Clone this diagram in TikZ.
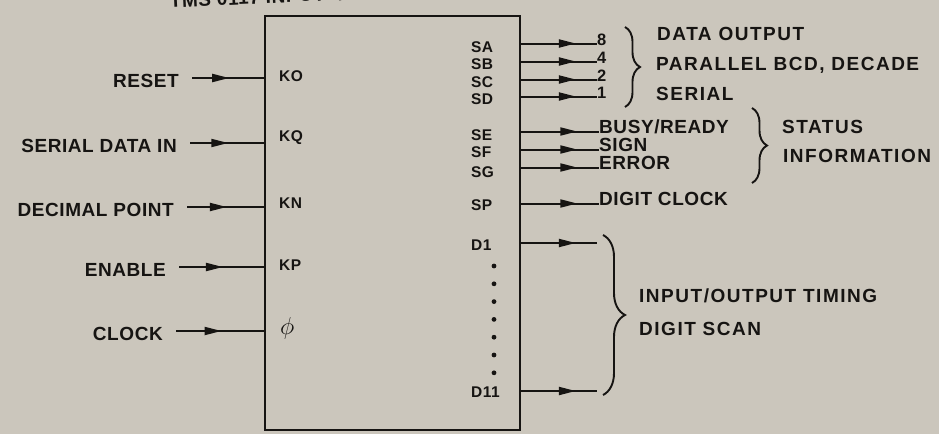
\documentclass[tikz,border=0pt]{standalone}
\usepackage{fontspec}
\setmainfont[LetterSpace=3]{Liberation Sans}
\usetikzlibrary{arrows.meta, decorations.markings, decorations.pathreplacing}

\definecolor{paper}{RGB}{203,198,188}
\definecolor{ink}{RGB}{22,20,18}

\tikzset{
    sig/.style={font=\fontsize{19}{21}\selectfont\bfseries, text=ink, inner sep=0pt},
    note/.style={sig, font=\fontsize{19}{21}\selectfont\bfseries\addfontfeature{LetterSpace=8}, anchor=base west},
    pin/.style={font=\fontsize{15.5}{17}\selectfont\bfseries, text=ink, inner sep=0pt, anchor=west},
    bit/.style={font=\fontsize{16.5}{17}\selectfont\bfseries, text=ink, inner sep=0pt, anchor=base west},
    chip/.style={draw=ink, line width=2.8pt, minimum width=255pt, minimum height=414pt, inner sep=0pt},
    feed/.style={draw=ink, line width=2pt, postaction={decorate},
        decoration={markings, mark=at position #1 with {\arrow{Triangle[length=17pt,width=8pt]}}}},
    feed/.default=0.55,
    group/.style={draw=ink, line width=1.9pt, decorate, decoration={brace, amplitude=#1}},
}

\begin{document}
\begin{tikzpicture}[x=1pt, y=-1pt]
    \fill[paper] (0,0) rectangle (939,434);
    \useasboundingbox (0,0) rectangle (939,434);

    \node[sig, rotate=2.7, anchor=base west] (title) at (170,8) {TMS 0117 INPUTS/OUTPUTS};

    \node[chip] (chip) at (392.5,223) {};

    % inputs
    \node[sig, anchor=base east] (reset)  at (179,87)  {RESET};
    \node[sig, anchor=base east] (serin)  at (177,152) {SERIAL DATA IN};
    \node[sig, anchor=base east] (decpt)  at (174,216) {DECIMAL POINT};
    \node[sig, anchor=base east] (enable) at (166,276) {ENABLE};
    \node[sig, anchor=base east] (clock)  at (163,340) {CLOCK};

    \foreach \s in {reset, serin, decpt, enable, clock}
        \draw[feed=0.52] ([shift={(13pt,9pt)}]\s.base east) -- ([yshift=9pt]\s.base east -| chip.west);

    \node[pin] (ko) at (279,76)  {KO};
    \node[pin] (kq) at (279,138) {KQ};
    \node[pin] (kn) at (279,203) {KN};
    \node[pin] (kp) at (279,265) {KP};
    \node[pin] (phi) at (280,328) {\scalebox{1.7}{\(\phi\)}};

    % outputs
    \node[pin] (sa) at (471,47)  {SA};
    \node[pin] (sb) at (471,64)  {SB};
    \node[pin] (sc) at (471,82)  {SC};
    \node[pin] (sd) at (471,99)  {SD};
    \node[pin] (se) at (471,135) {SE};
    \node[pin] (sf) at (471,152) {SF};
    \node[pin] (sg) at (471,172) {SG};
    \node[pin] (sp) at (471,205) {SP};
    \node[pin] (done) at (471,245) {D1};
    \node[pin] (deleven) at (471,392) {D11};

    \foreach \k in {0,...,6}
        \fill[ink] (494,{266+17.8*\k}) circle (2.4pt);

    \node[bit] (b8) at (597,45) {8};
    \node[bit] (b4) at (597,63) {4};
    \node[bit] (b2) at (597,81) {2};
    \node[bit] (b1) at (597,98) {1};
    \node[sig, anchor=base west] (busy)  at (599,133) {BUSY/READY};
    \node[sig, anchor=base west] (sign)  at (599,151) {SIGN};
    \node[sig, anchor=base west] (error) at (599,169) {ERROR};
    \node[sig, anchor=base west] (dclk)  at (599,205) {DIGIT CLOCK};

    \foreach \s in {b8, b4, b2, b1, busy, sign, error, dclk}
        \draw[feed=0.72] ([yshift=1.5pt]\s.base west -| chip.east) -- ([yshift=1.5pt]\s.base west);

    \coordinate (dfirst) at (597,243);
    \coordinate (dlast)  at (597,391);
    \draw[feed=0.72] (dfirst -| chip.east) -- (dfirst);
    \draw[feed=0.72] (dlast -| chip.east) -- (dlast);

    % groups
    \draw[group=15pt] (625,27) -- (625,107);
    \draw[group=15pt] (752,108) -- (752,183);
    \draw[group=22pt] (603,235) -- (603,395);

    \node[note] (dout) at (657,40)  {DATA OUTPUT};
    \node[note] (pbcd) at (656,70)  {PARALLEL BCD, DECADE};
    \node[note] (ser)  at (656,100) {SERIAL};
    \node[note] (stat) at (782,133) {STATUS};
    \node[note] (info) at (783,162) {INFORMATION};
    \node[note] (iot)  at (639,302) {INPUT/OUTPUT TIMING};
    \node[note] (scan) at (639,335) {DIGIT SCAN};
\end{tikzpicture}
\end{document}
